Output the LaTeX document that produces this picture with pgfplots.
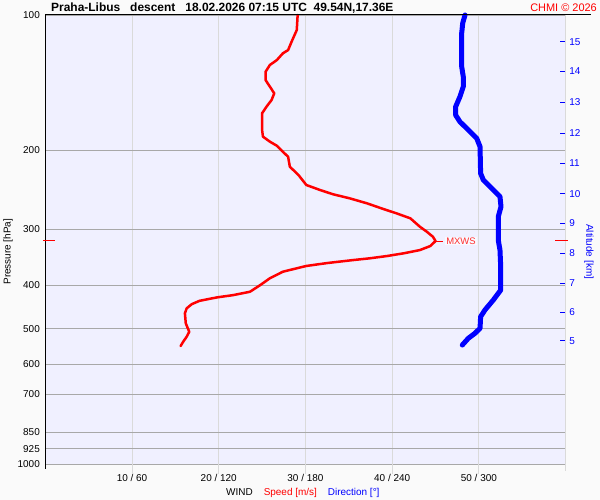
\documentclass[border=0pt]{standalone}
\usepackage{fontspec}
\setmainfont{Liberation Sans}
\usepackage{pgfplots}
\usepackage{pgfplotstable}
\pgfplotsset{compat=1.18}
\definecolor{plotbg}{HTML}{F0F0FF}
\definecolor{outbg}{HTML}{FAFAFA}
\definecolor{hgrid}{HTML}{A8A8A8}
\definecolor{vgrid}{HTML}{DADADA}
\definecolor{mxred}{HTML}{FF3030}

\pgfplotstableread{
p speed
100 29.1
108.0 29.0
114.7 28.4
119.7 28.0
121.7 27.4
126.0 26.7
129.2 25.9
133.8 25.4
139.6 25.4
144.4 25.9
149.4 26.4
154.6 26.1
160.1 25.5
165.5 25.0
180.3 25.0
186.6 25.1
191.5 25.9
195.5 26.7
201.6 27.4
206.9 28.0
217.7 28.2
227.2 29.2
239.1 30.1
245.4 31.7
250.8 33.2
256.0 35.1
262.7 37.1
270.5 39.0
276.5 40.5
283.7 42.1
296.2 43.2
303.9 44.0
311.8 44.7
318.7 45.0
327.0 44.4
333.8 43.2
339.5 41.3
344.2 39.4
348.3 37.4
351.4 35.5
356.8 32.5
362.2 30.1
373.0 27.4
385.8 25.9
399.4 24.8
413.4 23.6
420.5 21.7
425.5 19.8
433.0 17.8
440.4 16.9
450.2 16.3
461.9 16.1
486.1 16.2
507.5 16.6
520.7 16.3
534.2 15.9
546.1 15.6
}\speeddata

\pgfplotstableread{
p dir
100 290.4
104.3 288.8
109.8 288.1
130.3 288.1
137.2 289.2
144.4 289.2
152.0 286.9
160.1 283.9
167.0 283.9
172.9 286.9
180.3 292.7
188.2 298.5
196.5 300.8
225.3 301.2
233.1 303.1
243.2 308.9
253.9 314.6
267.3 315.3
281.4 313.4
317.1 313.4
333.8 314.6
363.6 315.1
409.8 315.1
431.2 310
453.9 304.2
469.8 301.2
498.5 300.8
511.5 297.3
524.8 292.7
543.3 288.5
}\dirdata

\begin{document}
\begin{tikzpicture}
\fill[outbg] (0bp,0bp) rectangle (600bp,500bp);
\begin{axis}[
  at={(45.3bp,36bp)}, anchor=south west,
  scale only axis, width=520.3bp, height=449bp,
  xmin=0, xmax=60, ymin=100, ymax=1000, ymode=log, y dir=reverse,
  axis background/.style={fill=plotbg},
  axis line style={draw=none},
  xtick={10,20,30,40,50},
  xticklabels={10 / 60, 20 / 120, 30 / 180, 40 / 240, 50 / 300},
  ytick={100,200,300,400,500,600,700,850,925,1000},
  yticklabels={100,200,300,400,500,600,700,850,925,1000},
  yminorticks=false, xminorticks=false,
  major tick length=0pt,
  xmajorgrids, ymajorgrids,
  x grid style={vgrid, line width=1bp},
  y grid style={hgrid, line width=1bp},
  tick label style={font=\fontsize{10}{12}\selectfont},
  xticklabel style={inner sep=0pt, anchor=base, yshift=-17.7bp},
  yticklabel style={inner sep=0pt, anchor=east, xshift=-5.3bp},
  clip=false,
]
\addplot[red, line width=2.5bp, line join=round, line cap=round] table[x=speed, y=p] {\speeddata};
\draw[red, line width=1bp] (axis cs:45.1,318.7) -- (axis cs:45.9,318.7);
\node[anchor=west, fill=white!60!plotbg, inner sep=1bp, text=mxred, font=\fontsize{9.5}{11}\selectfont] at (axis cs:46.1,318.7) {MXWS};
\end{axis}
\begin{axis}[
  at={(45.3bp,36bp)}, anchor=south west,
  scale only axis, width=520.3bp, height=449bp,
  xmin=0, xmax=360, ymin=100, ymax=1000, ymode=log, y dir=reverse,
  axis line style={draw=none},
  xtick=\empty,
  ytick pos=right, yticklabel pos=right,
  ytick={114.7,133.3,156.5,183.2,213.9,250.4,291.0,339.5,395.9,459.4,531.4},
  yticklabels={15,14,13,12,11,10,9,8,7,6,5},
  yminorticks=false,
  major tick length=6bp,
  ytick style={blue, line width=1bp},
  yticklabel style={text=blue, inner sep=0pt, anchor=west, xshift=3.5bp, font=\fontsize{10}{12}\selectfont},
  clip=false,
]
\addplot[blue, line width=5bp, line join=round, line cap=round] table[x=dir, y=p] {\dirdata};
\end{axis}
% frame lines
\draw[black, line width=1bp] (45.3bp,485bp) -- (591bp,485bp);
\draw[black, line width=1bp] (45.3bp,485bp) -- (45.3bp,31bp);
\draw[vgrid, line width=1bp] (565.6bp,485bp) -- (565.6bp,29bp);
\foreach \k in {1,...,5} {
  \pgfmathsetmacro{\xx}{45.3+\k*86.717}
  \draw[vgrid, line width=1bp] (\xx bp,36bp) -- (\xx bp,26bp);
}
% max wind markers
\draw[red, line width=1bp] (43bp,259bp) -- (55bp,259bp);
\draw[red, line width=1bp] (555bp,259bp) -- (568bp,259bp);
% texts
\node[anchor=base west, font=\bfseries\fontsize{12}{14}\selectfont, inner sep=0pt] at (51bp,488bp) {Praha-Libus\ \ \ descent\ \ \ 18.02.2026 07:15 UTC\ \ 49.54N,17.36E};
\node[anchor=base east, text=red, font=\fontsize{11}{13}\selectfont, inner sep=0pt] at (597bp,488bp) {CHMI © 2026};
\node[rotate=90, font=\fontsize{10}{12}\selectfont, inner sep=0pt] at (8bp,248.3bp) {Pressure [hPa]};
\node[rotate=-90, text=blue, font=\fontsize{10}{12}\selectfont, inner sep=0pt] at (589bp,248.3bp) {Altitude [km]};
\node[anchor=base west, font=\fontsize{10}{12}\selectfont, inner sep=0pt] at (226bp,5bp) {WIND\hspace{11bp}\textcolor{red}{Speed [m/s]}\hspace{11bp}\textcolor{blue}{Direction [°]}};
\end{tikzpicture}
\end{document}
